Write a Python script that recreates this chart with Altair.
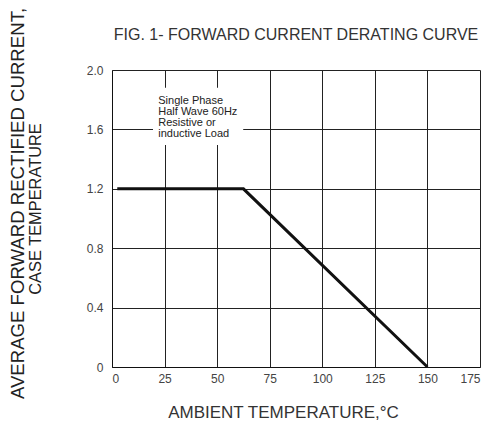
import altair as alt
import pandas as pd

# Data
temps = [2.5, 62.5, 150]
currents = [1.2, 1.2, 0.0]
x_ticks = [0, 25, 50, 75, 100, 125, 150, 175]
y_ticks = [0, 0.4, 0.8, 1.2, 1.6, 2.0]
note_lines = ["Single Phase", "Half Wave 60Hz", "Resistive or", "inductive Load"]
y_title_1 = "AVERAGE FORWARD RECTIFIED CURRENT,"
y_title_2 = "CASE TEMPERATURE"

df = pd.DataFrame({"t": temps, "i": currents})

FONT = "Liberation Sans"

x_enc = alt.X(
    "t:Q",
    scale=alt.Scale(domain=[0, 175], nice=False),
    axis=alt.Axis(
        values=x_ticks, grid=True, gridColor="#222", gridWidth=1, gridOpacity=1,
        domainColor="#111", ticks=False, labelPadding=6, labelFontSize=12,
        labelColor="#444", labelFont=FONT,
        title="AMBIENT TEMPERATURE,°C", titleFont=FONT, titleFontSize=17,
        titleFontWeight="normal", titleColor="#333", titleX=171, titleY=45,
        titleBaseline="middle", titleAlign="center",
    ),
)
y_enc = alt.Y(
    "i:Q",
    scale=alt.Scale(domain=[0, 2.0], nice=False),
    axis=alt.Axis(
        values=y_ticks, grid=True, gridColor="#222", gridWidth=1, gridOpacity=1,
        domainColor="#111", ticks=False, labelPadding=9, labelFontSize=12,
        labelColor="#444", labelFont=FONT,
        labelExpr="datum.value == 0 ? '0' : format(datum.value, '.1f')",
        title=y_title_1,
        titleFont=FONT, titleFontSize=18.6, titleFontWeight="normal",
        titleColor="#222", titleAngle=270, titleX=-104, titleY=133,
        titleBaseline="top", titleAlign="center",
    ),
)

base = alt.Chart(df)

curve = base.mark_line(color="#111", strokeWidth=3).encode(x=x_enc, y=y_enc)

box = alt.Chart(pd.DataFrame({"a": [0]})).mark_rect(color="white").encode(
    x=alt.datum(19.5), x2=alt.datum(62.4), y=alt.datum(1.495), y2=alt.datum(1.88)
)

note = alt.Chart(pd.DataFrame({"a": [0]})).mark_text(
    text=note_lines, align="left", baseline="top", font=FONT, fontSize=11,
    lineHeight=11, color="#222"
).encode(x=alt.datum(22), y=alt.datum(1.835))

ytitle2 = alt.Chart(pd.DataFrame({"a": [0]})).mark_text(
    text=y_title_2, angle=270, align="center", baseline="top", font=FONT,
    fontSize=16.4, color="#222"
).encode(x=alt.value(-84), y=alt.value(139))

chart = alt.layer(curve, box, note, ytitle2).properties(
    width=368, height=297,
    title=alt.TitleParams(
        "FIG. 1- FORWARD CURRENT DERATING CURVE", font=FONT, fontSize=16,
        fontWeight="normal", color="#333", offset=0, dy=36, anchor="middle",
        frame="group"
    ),
    autosize=alt.AutoSizeParams(type="none"),
    padding={"left": 104, "top": 62, "right": 4, "bottom": 54},
).configure_view(stroke=None)

chart.save("out.html", embed_options={"renderer": "svg", "actions": False})
